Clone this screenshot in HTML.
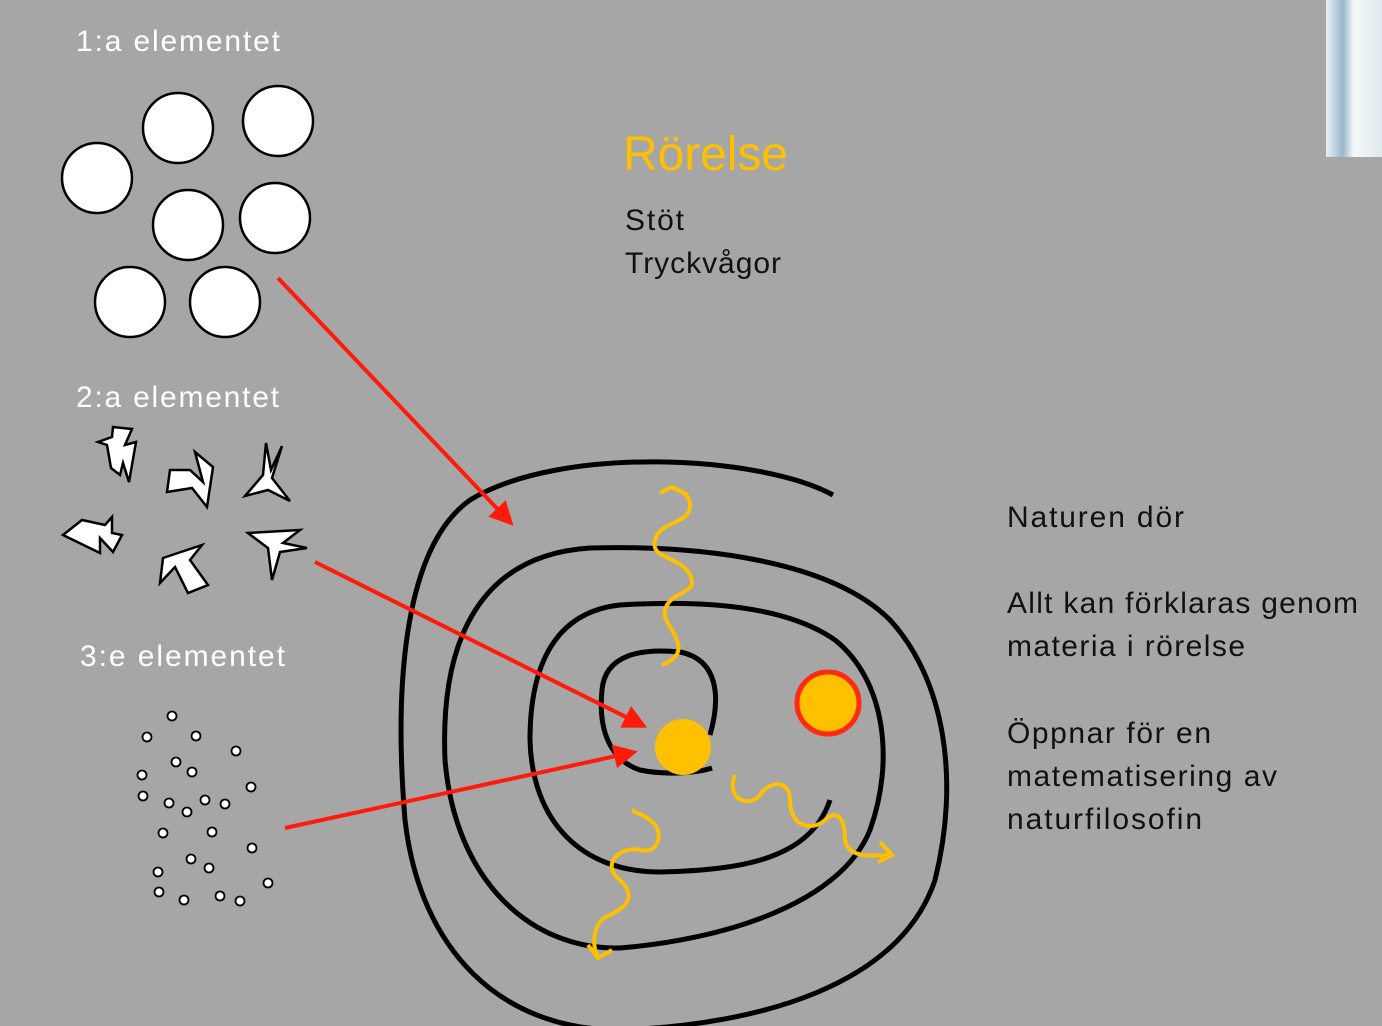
<!DOCTYPE html>
<html><head><meta charset="utf-8"><style>
html,body{margin:0;padding:0;background:#a6a6a6;}
svg{display:block}
text{font-family:"Liberation Sans","DejaVu Sans",sans-serif}
</style></head><body>
<svg id="s" width="1382" height="1026" viewBox="0 0 1382 1026">
<rect width="1382" height="1026" fill="#a6a6a6"/>
<defs><linearGradient id="g" x1="0" x2="1"><stop offset="0" stop-color="#e8f0f4"/><stop offset="0.3" stop-color="#9ab8cc"/><stop offset="0.5" stop-color="#f4f8fa"/><stop offset="1" stop-color="#dfe8ee"/></linearGradient></defs>
<rect x="1326" y="0" width="56" height="157" fill="url(#g)"/>
<text x="76" y="51" font-size="30" fill="#fff" textLength="204">1:a elementet</text>
<text x="76" y="407" font-size="30" fill="#fff" textLength="203">2:a elementet</text>
<text x="80" y="666" font-size="30" fill="#fff" textLength="205">3:e elementet</text>
<text x="623" y="170" font-size="48" fill="#ffc000" textLength="165">Rörelse</text>
<text x="625" y="230" font-size="30" fill="#111" textLength="59">Stöt</text>
<text x="625" y="273" font-size="30" fill="#111" textLength="156">Tryckvågor</text>
<g font-size="30" fill="#111">
<text x="1007" y="527" textLength="177">Naturen dör</text>
<text x="1007" y="613" textLength="351">Allt kan förklaras genom</text>
<text x="1007" y="656" textLength="238">materia i rörelse</text>
<text x="1007" y="743" textLength="204">Öppnar för en</text>
<text x="1007" y="786" textLength="270">matematisering av</text>
<text x="1007" y="829" textLength="195">naturfilosofin</text>
</g>
<g id="circles" fill="#fff" stroke="#000" stroke-width="2.5"></g>
<g fill="#fff" stroke="#000" stroke-width="2.5" stroke-linejoin="miter">
<polygon points="113,427 132,429 125,445 136,442 129,482 123,463 120,475 111,468 107,445 98,442 112,437"/>
<polygon points="170,470 190,470 203,482 195,452 213,467 207,507 192,488 167,492"/>
<polygon points="266,443 271,470 282,446 272,478 290,501 268,490 245,496 263,475"/>
<polygon points="63,535 82,520 105,525 112,517 112,533 122,535 113,552 100,538 100,553"/>
<polygon points="160,583 163,558 202,545 190,560 208,585 188,593 175,567"/>
<polygon points="248,533 300,530 283,543 307,548 280,552 272,580 268,548"/>
</g>
<g id="dots" fill="#fff" stroke="#000" stroke-width="1.8"></g>
<path d="M833,495 C760,455 560,445 470,500 C400,550 395,700 405,820 C420,950 500,1030 620,1030 C760,1025 900,985 935,880 C960,780 945,680 890,620 C830,560 700,545 590,548 C480,555 440,640 445,760 C455,880 530,950 620,948 C720,940 840,905 870,830 C895,760 885,680 835,640 C785,605 700,600 620,605 C555,612 530,665 530,740 C532,820 580,872 660,872 C740,870 810,860 830,800" fill="none" stroke="#000" stroke-width="5"/>
<path d="M710,735 C720,700 720,660 680,652 C640,648 605,655 602,690 C598,730 610,760 640,770 C670,776 700,772 712,768" fill="none" stroke="#000" stroke-width="5"/>
<g fill="none" stroke="#ffc000" stroke-width="4">
<path d="M662,665 C700,650 660,625 665,610 C670,590 700,595 690,575 C680,555 650,560 655,540 C660,520 690,525 690,505 C690,495 680,490 672,488 M660,493 L672,487 L688,495"/>
<path d="M598,958 C590,940 595,920 610,915 C630,905 635,895 620,880 C600,865 620,845 640,850 C660,855 665,830 650,820 C640,812 630,812 635,810 M588,945 L598,958 L612,950"/>
<path d="M735,775 C725,800 750,808 760,795 C770,780 790,780 790,800 C790,830 815,830 825,820 C835,810 845,815 845,840 C848,858 870,856 890,855 M880,842 L892,855 L878,862"/>
</g>
<circle cx="683" cy="747" r="28" fill="#ffc000"/>
<circle cx="828" cy="703" r="31" fill="#ffc000" stroke="#ff2a10" stroke-width="5"/>
<defs><marker id="ah" markerWidth="6" markerHeight="6" refX="4" refY="3" orient="auto"><path d="M0,0 L6,3 L0,6 z" fill="#ff1a0a"/></marker></defs>
<g stroke="#ff1a0a" stroke-width="4" marker-end="url(#ah)">
<line x1="278" y1="278" x2="508" y2="520"/>
<line x1="315" y1="562" x2="640" y2="724"/>
<line x1="285" y1="828" x2="630" y2="753"/>
</g>
</svg>
<script>
const circleX=[97,178,278,188,275,130,225];
const circleY=[178,128,121,225,218,302,302];
const dotX=[172,147,196,236,176,192,142,251,143,169,187,205,225,163,212,252,191,209,158,268,159,184,220,240];
const dotY=[716,737,736,751,762,772,775,787,796,803,812,800,804,833,832,848,859,868,872,883,892,900,896,901];
const ns="http://www.w3.org/2000/svg";
const cg=document.getElementById('circles');
circleX.forEach((x,i)=>{const c=document.createElementNS(ns,'circle');c.setAttribute('cx',x);c.setAttribute('cy',circleY[i]);c.setAttribute('r',35);


cg.appendChild(c);});
const dg=document.getElementById('dots');
dotX.forEach((x,i)=>{const c=document.createElementNS(ns,'circle');c.setAttribute('cx',x);c.setAttribute('cy',dotY[i]);c.setAttribute('r',4.5);


dg.appendChild(c);});
</script>
</body></html>
